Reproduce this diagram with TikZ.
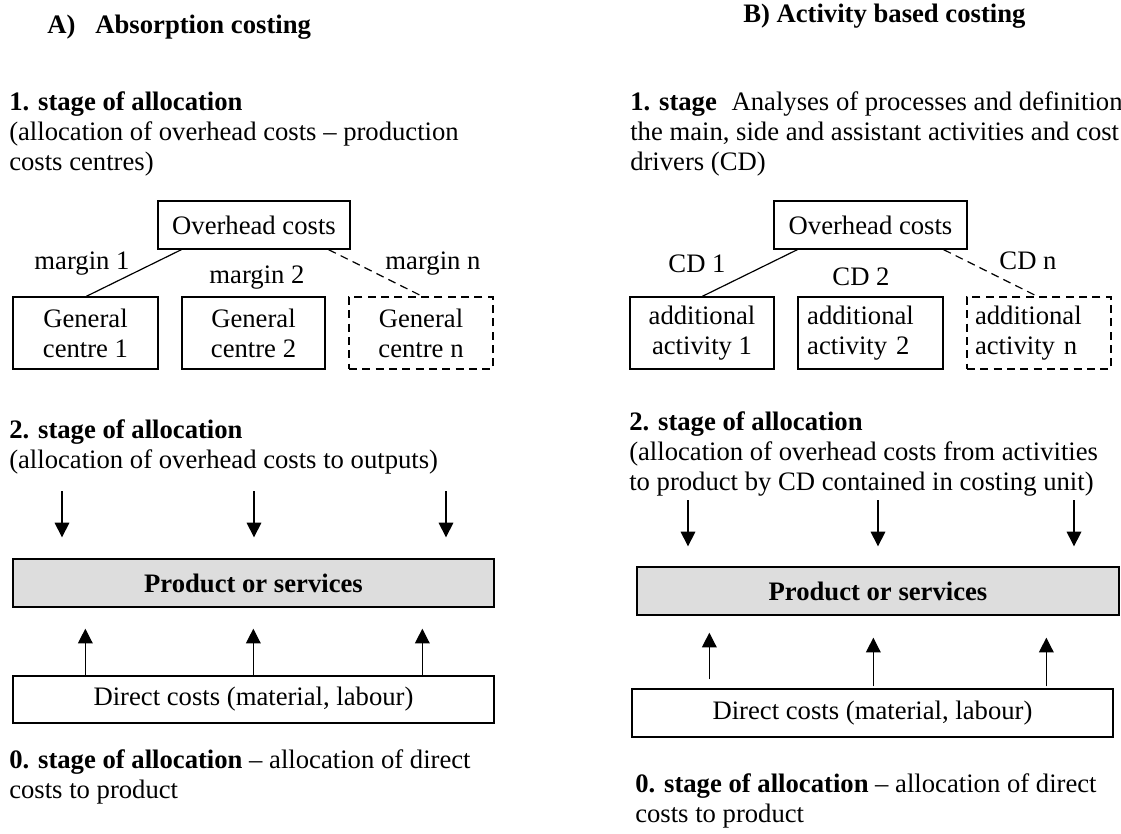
\documentclass[tikz,border=0pt]{standalone}
\usepackage{fontspec}
\setmainfont{Liberation Serif}
\usetikzlibrary{arrows.meta,calc}
\definecolor{prodgray}{RGB}{221,221,221}
\newcommand{\diagfont}{\fontsize{20}{22.5}\selectfont}

\begin{document}
\begin{tikzpicture}[x=0.75pt, y=-0.75pt,
        every node/.style={font=\diagfont},
        txt/.style={anchor=base west, inner sep=0pt, align=left},
        head/.style={txt, font=\diagfont\bfseries},
        wh/.style 2 args={minimum width=#1*0.75pt, minimum height=#2*0.75pt},
        box/.style={rectangle, draw, line width=1pt, inner sep=0pt, align=center},
        dbox/.style={box, dash pattern=on 6pt off 4pt},
        prod/.style={box, fill=prodgray, font=\diagfont\bfseries},
        link/.style={draw, line width=0.9pt},
        dlink/.style={link, dash pattern=on 6pt off 4pt},
        line/.style={draw, line width=0.9pt, -{Triangle[width=11pt,length=11pt]}}]

    \useasboundingbox (0,0) rectangle (1121,833);

    \node [head] (headA) at (47,33) {A)\hspace{15pt}Absorption costing};
    \node [txt] (stage1A) at (9,170) {\textbf{1. stage of allocation}\\(allocation of overhead costs -- production\\costs centres)};

    \node [box, wh={192}{48}] (ohA) at (254,225) {Overhead costs};
    \node [box, wh={145}{72}] (gcA1) at (85.5,333) {General\\centre 1};
    \node [box, wh={143}{72}] (gcA2) at (253.5,333) {General\\centre 2};
    \node [dbox, wh={144}{72}] (gcAn) at (421,333) {General\\centre n};

    \node (mA1) at (82,264) {margin 1};
    \node (mA2) at (257,278) {margin 2};
    \node (mAn) at (433,264) {margin n};

    \path [link] ([xshift=18pt]ohA.south west) -- ([xshift=55.5pt]gcA1.north west);
    \path [dlink] ([xshift=-16.5pt]ohA.south east) -- ([xshift=55.5pt]gcAn.north west);

    \node [txt] (stage2A) at (9,468) {\textbf{2. stage of allocation}\\(allocation of overhead costs to outputs)};

    \node [prod, wh={481}{48}] (prodA) at (253.5,583) {Product or services};
    \node [box, wh={481}{47}] (dirA) at (253.5,699.5) {Direct costs (material, labour)};

    \coordinate (inA1) at (62,491);
    \coordinate (inA2) at (254,491);
    \coordinate (inA3) at (446,491);
    \path [line, shorten >=15.75pt] (inA1) -- (inA1 |- prodA.north);
    \path [line, shorten >=15.75pt] (inA2) -- (inA2 |- prodA.north);
    \path [line, shorten >=15.75pt] (inA3) -- (inA3 |- prodA.north);

    \coordinate (outA1) at ([xshift=54.75pt]dirA.north west);
    \coordinate (outA2) at ([xshift=180.75pt]dirA.north west);
    \coordinate (outA3) at ([xshift=307.5pt]dirA.north west);
    \path [line, shorten >=15.75pt] (outA1) -- (outA1 |- prodA.south);
    \path [line, shorten >=15.75pt] (outA2) -- (outA2 |- prodA.south);
    \path [line, shorten >=15.75pt] (outA3) -- (outA3 |- prodA.south);

    \node [txt] (stage0A) at (9,798) {\textbf{0. stage of allocation} -- allocation of direct\\costs to product};

    \node [head] (headB) at (743,22) {B) Activity based costing};
    \node [txt] (stage1B) at (630,170) {\textbf{1. stage}\hspace{11pt}Analyses of processes and definition\\the main, side and assistant activities and cost\\drivers (CD)};

    \node [box, wh={193}{48}] (ohB) at (870.5,225) {Overhead costs};
    \node [box, wh={144}{72}] (aaB1) at (702,333) {additional\\activity 1};
    \node [box, wh={145}{72}, text width=95pt, align=left] (aaB2) at (870.5,333) {additional\\activity 2};
    \node [dbox, wh={144}{72}, text width=96pt, align=left] (aaBn) at (1039,333) {additional\\activity n};

    \node (cdB1) at (697,264) {CD 1};
    \node (cdB2) at (861,277) {CD 2};
    \node (cdBn) at (1028,261) {CD n};

    \path [link] ([xshift=18pt]ohB.south west) -- ([xshift=54.75pt]aaB1.north west);
    \path [dlink] ([xshift=-18pt]ohB.south east) -- ([xshift=53.25pt]aaBn.north west);

    \node [txt] (stage2B) at (629,490) {\textbf{2. stage of allocation}\\(allocation of overhead costs from activities\\to product by CD contained in costing unit)};

    \node [prod, wh={482}{48}] (prodB) at (878,591) {Product or services};
    \node [box, wh={481}{48}] (dirB) at (872.5,713) {Direct costs (material, labour)};

    \coordinate (inB1) at (688,500);
    \coordinate (inB2) at (878,500);
    \coordinate (inB3) at (1074,500);
    \path [line, shorten >=15pt] (inB1) -- (inB1 |- prodB.north);
    \path [line, shorten >=15pt] (inB2) -- (inB2 |- prodB.north);
    \path [line, shorten >=15pt] (inB3) -- (inB3 |- prodB.north);

    \coordinate (outB1) at ([xshift=58.5pt, yshift=6.75pt]dirB.north west);
    \coordinate (outB2) at ([xshift=181.5pt, yshift=1.5pt]dirB.north west);
    \coordinate (outB3) at ([xshift=311.25pt, yshift=1.5pt]dirB.north west);
    \path [line, shorten >=12.75pt] (outB1) -- (outB1 |- prodB.south);
    \path [line, shorten >=16.5pt] (outB2) -- (outB2 |- prodB.south);
    \path [line, shorten >=16.5pt] (outB3) -- (outB3 |- prodB.south);

    \node [txt] (stage0B) at (635,822) {\textbf{0. stage of allocation} -- allocation of direct\\costs to product};
\end{tikzpicture}
\end{document}
